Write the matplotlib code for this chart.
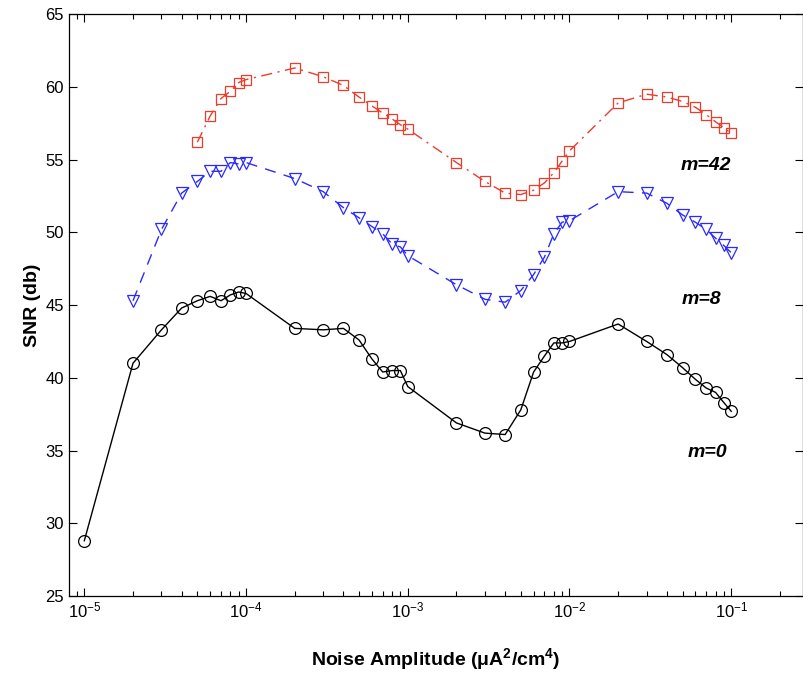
import numpy as np
import matplotlib
matplotlib.use("Agg")
import matplotlib.pyplot as plt
from matplotlib.ticker import LogLocator, NullFormatter

plt.rcParams['font.family'] = ['Liberation Sans', 'DejaVu Sans']
plt.rcParams['mathtext.fontset'] = 'custom'
plt.rcParams['mathtext.rm'] = 'Liberation Sans'
plt.rcParams['mathtext.it'] = 'Liberation Sans:italic'
plt.rcParams['mathtext.bf'] = 'Liberation Sans:bold'

x_m0 = [1e-5, 2e-5, 3e-5, 4e-5, 5e-5, 6e-5, 7e-5, 8e-5, 9e-5, 1e-4,
        2e-4, 3e-4, 4e-4, 5e-4, 6e-4, 7e-4, 8e-4, 9e-4, 1e-3,
        2e-3, 3e-3, 4e-3, 5e-3, 6e-3, 7e-3, 8e-3, 9e-3, 1e-2,
        2e-2, 3e-2, 4e-2, 5e-2, 6e-2, 7e-2, 8e-2, 9e-2, 1e-1]
snr_m0 = [28.8, 41.0, 43.3, 44.8, 45.3, 45.6, 45.3, 45.7, 45.9, 45.8,
          43.4, 43.3, 43.4, 42.6, 41.3, 40.4, 40.5, 40.5, 39.4,
          36.9, 36.2, 36.1, 37.8, 40.4, 41.5, 42.4, 42.4, 42.5,
          43.7, 42.5, 41.6, 40.7, 39.9, 39.3, 39.0, 38.3, 37.7]

x_m8 = [2e-5, 3e-5, 4e-5, 5e-5, 6e-5, 7e-5, 8e-5, 9e-5, 1e-4,
        2e-4, 3e-4, 4e-4, 5e-4, 6e-4, 7e-4, 8e-4, 9e-4, 1e-3,
        2e-3, 3e-3, 4e-3, 5e-3, 6e-3, 7e-3, 8e-3, 9e-3, 1e-2,
        2e-2, 3e-2, 4e-2, 5e-2, 6e-2, 7e-2, 8e-2, 9e-2, 1e-1]
snr_m8 = [45.3, 50.2, 52.7, 53.5, 54.2, 54.2, 54.8, 54.7, 54.8,
          53.7, 52.8, 51.7, 51.0, 50.4, 49.9, 49.2, 49.0, 48.4,
          46.4, 45.4, 45.2, 46.0, 47.1, 48.3, 49.9, 50.7, 50.8,
          52.8, 52.7, 52.0, 51.2, 50.7, 50.2, 49.6, 49.1, 48.6]

x_m42 = [5e-5, 6e-5, 7e-5, 8e-5, 9e-5, 1e-4,
         2e-4, 3e-4, 4e-4, 5e-4, 6e-4, 7e-4, 8e-4, 9e-4, 1e-3,
         2e-3, 3e-3, 4e-3, 5e-3, 6e-3, 7e-3, 8e-3, 9e-3, 1e-2,
         2e-2, 3e-2, 4e-2, 5e-2, 6e-2, 7e-2, 8e-2, 9e-2, 1e-1]
snr_m42 = [56.2, 58.0, 59.2, 59.7, 60.3, 60.5,
           61.3, 60.7, 60.1, 59.3, 58.7, 58.2, 57.8, 57.4, 57.1,
           54.8, 53.5, 52.7, 52.6, 52.9, 53.4, 54.1, 54.9, 55.6,
           58.9, 59.5, 59.3, 59.0, 58.6, 58.1, 57.6, 57.2, 56.8]

labels = ['m=42', 'm=8', 'm=0']
label_x = [0.0695, 0.0656, 0.0714]
label_y = [54.6, 45.4, 34.9]

yticks = [25, 30, 35, 40, 45, 50, 55, 60, 65]

fig = plt.figure(figsize=(8.04, 6.75), dpi=100)
ax = fig.add_axes([0.0858, 0.117, 0.9130, 0.862])

red = '#ee3b2b'
blue = '#2a2aff'

ax.plot(x_m0, snr_m0, '-', color='black', lw=1.0, marker='o', ms=8.5,
        mfc='none', mec='black', mew=0.9)
ax.plot(x_m8, snr_m8, color=blue, lw=1.0, ls=(0, (8, 6)), marker='v', ms=9,
        mfc='none', mec=blue, mew=0.9)
ax.plot(x_m42, snr_m42, color=red, lw=1.0, ls=(0, (8, 4, 1.5, 4)), marker='s',
        ms=7.5, mfc='none', mec=red, mew=0.9)

ax.set_xscale('log')
ax.set_xlim(8.04e-6, 0.278)
ax.set_ylim(25, 65)
ax.set_yticks(yticks)
ax.xaxis.set_major_locator(LogLocator(base=10, numticks=20))
ax.xaxis.set_minor_locator(LogLocator(base=10, subs=np.arange(2, 10), numticks=50))
ax.xaxis.set_minor_formatter(NullFormatter())

ax.tick_params(which='both', direction='in', top=True, right=True,
               labelsize=12, width=0.8)
ax.tick_params(which='major', length=6)
ax.tick_params(which='minor', length=3.5)
for s in ax.spines.values():
    s.set_linewidth(0.9)

for t, xx, yy in zip(labels, label_x, label_y):
    ax.text(xx, yy, t, fontsize=14, fontweight='bold', fontstyle='italic',
            ha='center', va='center')

ax.set_xlabel('Noise Amplitude ($\\mathregular{\\mu}$A$^{\\mathregular{2}}$/cm$^{\\mathregular{4}}$)',
              fontsize=14, fontweight='bold', labelpad=18)
ax.set_ylabel('SNR (db)', fontsize=14, fontweight='bold', labelpad=3)

fig.savefig('out.png', dpi=100)
